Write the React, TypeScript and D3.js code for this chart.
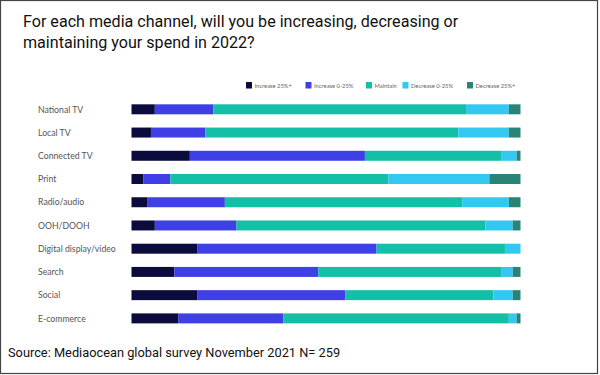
import React from "react";
import * as d3 from "d3";

const channels = [
  "National TV",
  "Local TV",
  "Connected TV",
  "Print",
  "Radio/audio",
  "OOH/DOOH",
  "Digital display/video",
  "Search",
  "Social",
  "E-commerce",
];
const seriesNames = ["Increase 25%+", "Increase 0-25%", "Maintain", "Decrease 0-25%", "Decrease 25%+"];
const increase25 = [6, 5, 15, 3, 4, 6, 17, 11, 17, 12];
const increase0 = [15, 14, 45, 7, 20, 21, 46, 37, 38, 27];
const maintain = [65, 65, 35, 56, 61, 64, 33, 47, 38, 58];
const decrease0 = [11, 13, 4, 26, 12, 7, 4, 3, 5, 2];
const decrease25 = [3, 3, 1, 8, 3, 2, 0, 2, 2, 1];
const colors = ["#0b0b3d", "#3f3fe6", "#14bfa7", "#33c8f2", "#2a8476"];

const title1 = "For each media channel, will you be increasing, decreasing or";
const title2 = "maintaining your spend in 2022?";
const source = "Source: Mediaocean global survey November 2021 N= 259";

export default function App() {
  const W = 600, H = 375;
  const rows = channels.map((c, i) => ({
    channel: c,
    [seriesNames[0]]: increase25[i],
    [seriesNames[1]]: increase0[i],
    [seriesNames[2]]: maintain[i],
    [seriesNames[3]]: decrease0[i],
    [seriesNames[4]]: decrease25[i],
  }));
  const normalized = rows.map((r: any) => {
    const tot = seriesNames.reduce((s, k) => s + r[k], 0);
    const o: any = { channel: r.channel };
    seriesNames.forEach((k) => (o[k] = (r[k] / tot) * 100));
    return o;
  });
  const stack = d3.stack<any>().keys(seriesNames)(normalized);
  const x = d3.scaleLinear().domain([0, 100]).range([131.5, 520.5]);
  const y = d3.scaleBand().domain(channels).range([97.7, 330]).paddingInner(0.57).paddingOuter(0.285);
  const bh = y.bandwidth();

  const legendX = [246, 305.5, 366, 402.5, 467];
  return (
    <svg width={W} height={H} style={{ position: "absolute", left: 0, top: 0, background: "#fff" }}>
      <rect x={0.5} y={0.5} width={597} height={373} fill="#fff" stroke="#444" strokeWidth={1.2} />
      <text x={23} y={27} fontFamily="Roboto" fontSize={16.1} fill="#111">{title1}</text>
      <text x={23} y={48} fontFamily="Roboto" fontSize={16.1} fill="#111">{title2}</text>
      {seriesNames.map((s, i) => (
        <g key={s}>
          <rect x={legendX[i]} y={82} width={6} height={6.5} fill={colors[i]} />
          <text x={legendX[i] + 8.5} y={87.6} fontFamily="Lato" fontSize={5.8} fill="#666">{s}</text>
        </g>
      ))}
      {channels.map((c) => (
        <text key={c} x={38} y={(y(c) as number) + bh / 2 + 3.2} fontFamily="Lato" fontSize={8.7} fill="#555">{c}</text>
      ))}
      {stack.map((layer, li) => (
        <g key={li} fill={colors[li]}>
          {layer.map((d: any, j: number) => (
            <rect key={j} x={x(d[0])} y={y(d.data.channel)} width={Math.max(0, x(d[1]) - x(d[0]))} height={bh} />
          ))}
        </g>
      ))}
      <text x={8} y={357} fontFamily="Roboto" fontSize={12.8} fill="#111">{source}</text>
    </svg>
  );
}
